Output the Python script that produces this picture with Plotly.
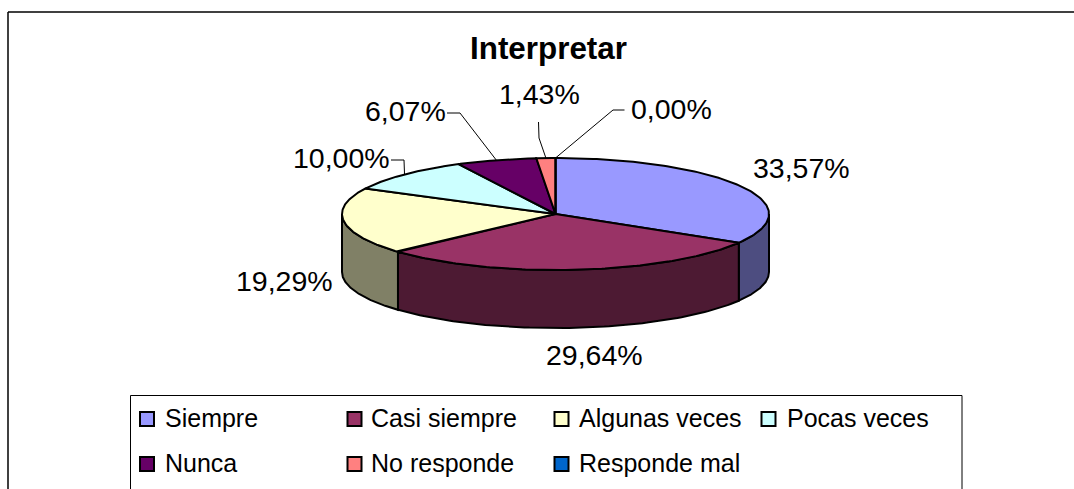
import numpy as np
import plotly.graph_objects as go

categories = ["Siempre", "Casi siempre", "Algunas veces", "Pocas veces", "Nunca", "No responde", "Responde mal"]
values = [33.57, 29.64, 19.29, 10.00, 6.07, 1.43, 0.00]
labels = ["33,57%", "29,64%", "19,29%", "10,00%", "6,07%", "1,43%", "0,00%"]
colors = ["#9999FF", "#993366", "#FFFFCC", "#CCFFFF", "#660066", "#FF8080", "#0066CC"]
wall_colors = ["#4D4D80", "#4D1A33", "#808066", "#668080", "#330033", "#804040", "#003366"]
title = "Interpretar"

# Layout (pixel space of the page)
W, H = 1074, 489
CX, CY, RX, RY, DEPTH = 555.5, 214, 213.5, 56, 58
FONT = "Liberation Sans, Arial, sans-serif"
label_pos = [(801, 168), (594, 355), (284, 281), (341, 158), (405, 111), (539, 94), (671, 109)]
# leader: label-side points per category (None = no leader)
leaders = [None, None, None,
           [(391, 160), (404, 160)],
           [(447, 113), (460, 113)],
           [(538.5, 122), (539, 138)],
           [(624.5, 110), (613, 110)]]
legend_x = [(147, 163), (354.5, 369), (561.5, 577), (768.5, 785)]
legend_y = [419, 464]
legend_text_dy = -1


def pt(t, dz=0.0):
    return CX + RX * np.sin(t), CY - RY * np.cos(t) + dz


fig = go.Figure()
edges = np.radians(np.concatenate([[0], np.cumsum(values)]) * 3.6)
edges[-1] = 2 * np.pi

# side walls (front half only, t in 90..270 deg)
for i in range(len(values)):
    a, b = max(edges[i], np.pi / 2), min(edges[i + 1], 3 * np.pi / 2)
    if b <= a:
        continue
    t = np.linspace(a, b, 80)
    x0, y0 = pt(t)
    x1, y1 = pt(t[::-1], DEPTH)
    fig.add_trace(go.Scatter(
        x=np.r_[x0, x1, x0[0]], y=np.r_[y0, y1, y0[0]], mode="lines", fill="toself",
        fillcolor=wall_colors[i], line=dict(color="black", width=2),
        hoverinfo="skip", showlegend=False))

# top face
for i in range(len(values)):
    t = np.linspace(edges[i], edges[i + 1], 120)
    x, y = pt(t)
    fig.add_trace(go.Scatter(
        x=np.r_[CX, x, CX], y=np.r_[CY, y, CY], mode="lines", fill="toself",
        fillcolor=colors[i], line=dict(color="black", width=2),
        name=categories[i], text=labels[i], hoverinfo="name+text", showlegend=False))

# leader lines, ending on the rim at each slice's mid angle
for i, pts in enumerate(leaders):
    if pts is None:
        continue
    ex, ey = pt((edges[i] + edges[i + 1]) / 2)
    xs = [p[0] for p in pts] + [float(ex)]
    ys = [p[1] for p in pts] + [float(ey)]
    fig.add_trace(go.Scatter(x=xs, y=ys, mode="lines", line=dict(color="black", width=1),
                             hoverinfo="skip", showlegend=False))

# legend swatches
order = [(r, c) for r in range(2) for c in range(4)]
annotations = []
for i, name in enumerate(categories):
    r, c = order[i]
    fig.add_trace(go.Scatter(
        x=[legend_x[c][0]], y=[legend_y[r]], mode="markers",
        marker=dict(symbol="square", size=14, color=colors[i], line=dict(color="black", width=2)),
        hoverinfo="skip", showlegend=False))
    annotations.append(dict(x=legend_x[c][1], y=legend_y[r] + legend_text_dy, text=name,
                            xanchor="left", yanchor="middle", showarrow=False,
                            font=dict(family=FONT, size=25, color="black")))

for (x, y), s in zip(label_pos, labels):
    annotations.append(dict(x=x, y=y, text=s, xanchor="center", yanchor="middle", showarrow=False,
                            font=dict(family=FONT, size=28.5, color="black")))
annotations.append(dict(x=548, y=48, text="<b>%s</b>" % title, xanchor="center", yanchor="middle",
                        showarrow=False, font=dict(family=FONT, size=31.4, color="black")))

shapes = [
    dict(type="line", x0=8, y0=12, x1=W, y1=12, line=dict(color="black", width=1.5)),
    dict(type="line", x0=8, y0=12, x1=8, y1=H + 5, line=dict(color="black", width=1.5)),
    dict(type="rect", x0=130.5, y0=395.5, x1=962, y1=H + 20, line=dict(color="black", width=1)),
]

fig.update_layout(
    width=W, height=H, margin=dict(l=0, r=0, t=0, b=0),
    paper_bgcolor="white", plot_bgcolor="white", showlegend=False,
    xaxis=dict(range=[0, W], visible=False, fixedrange=True),
    yaxis=dict(range=[H, 0], visible=False, fixedrange=True),
    annotations=annotations, shapes=shapes,
)
fig.write_html("out.html", config=dict(displayModeBar=False),
               post_script="document.body.style.margin='0';document.body.style.overflow='hidden';")
